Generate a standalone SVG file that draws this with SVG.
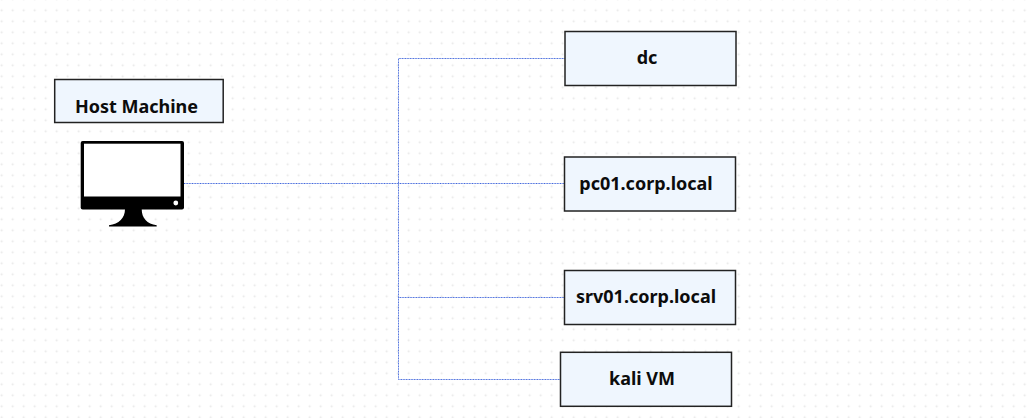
<svg xmlns="http://www.w3.org/2000/svg" width="1032" height="418" viewBox="0 0 1032 418">
<style>
.box{fill:#eff6fe;stroke:#222;stroke-width:1.5}
.lbl{font-family:"Noto Sans","Open Sans",sans-serif;font-weight:700;font-size:18px;fill:#0c0c0c;text-anchor:middle}
.wire{fill:none;stroke:#2f58d8;stroke-width:1;stroke-dasharray:1 0.6;opacity:.9}
</style>
<defs>
<pattern id="dots" width="11" height="11" patternUnits="userSpaceOnUse" x="-3.8" y="-6.2">
<circle cx="5.5" cy="5.5" r="1" fill="#e6e6e6"/>
</pattern>
</defs>
<rect width="1032" height="418" fill="#fff"/>
<rect width="1032" height="418" fill="url(#dots)"/>
<g id="connectors">
<path class="wire" d="M184 183.500H564.500"/>
<path class="wire" d="M564.500 58.500H398.500V379.500H560.500"/>
<path class="wire" d="M398.500 297.500H564.500"/>
</g>
<g id="host-label"><rect class="box" x="54.700" y="79.500" width="168.500" height="43"/><text class="lbl" x="136.500" y="112.500">Host Machine</text></g>
<g id="host-monitor">
<rect x="80.700" y="141" width="103.300" height="68.500" rx="2" fill="#000"/>
<rect x="84" y="143.700" width="96.500" height="52.800" fill="#fff"/>
<circle cx="175.800" cy="203" r="2.400" fill="#fff"/>
<path d="M125 209C125 218 119 224 109 225.300V226.500H156.700V225.300C147 224 141.700 218 141.700 209Z" fill="#000"/>
</g>
<g id="dc"><rect class="box" x="565" y="31.500" width="171" height="54"/><text class="lbl" x="647" y="64">dc</text></g>
<g id="pc01"><rect class="box" x="564.500" y="157" width="171" height="54"/><text class="lbl" x="646" y="190">pc01.corp.local</text></g>
<g id="srv01"><rect class="box" x="564.500" y="270.500" width="171" height="54"/><text class="lbl" x="646" y="303">srv01.corp.local</text></g>
<g id="kali"><rect class="box" x="560.500" y="352.300" width="171" height="54"/><text class="lbl" x="642" y="385.300">kali VM</text></g>
</svg>
